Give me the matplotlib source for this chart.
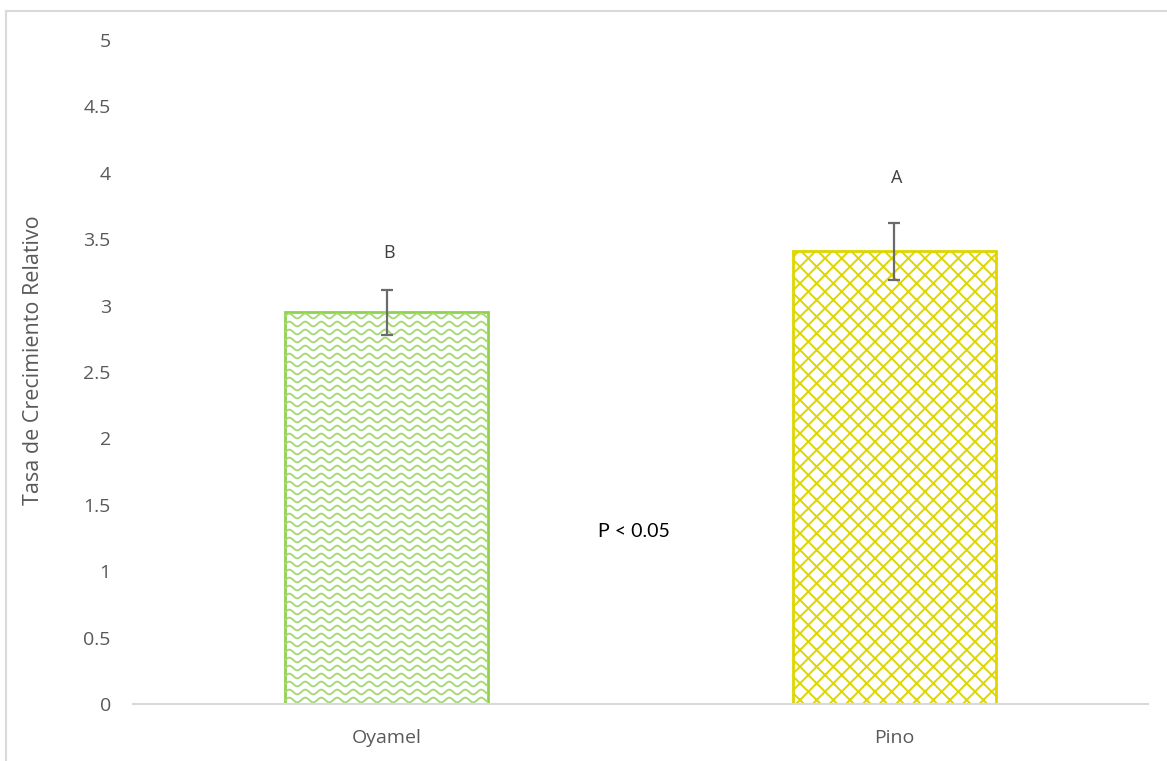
import numpy as np
import matplotlib.pyplot as plt
from matplotlib.lines import Line2D

especies = ['Oyamel', 'Pino']
tasa = [2.95, 3.41]
error = [0.17, 0.215]
letras = ['B', 'A']
colores = ['#92D050', '#DDD600']

plt.rcParams['font.family'] = ['Open Sans', 'DejaVu Sans']
plt.rcParams['hatch.linewidth'] = 1.4
gris = '#595959'

fig = plt.figure(figsize=(11.67, 7.61), dpi=100)
ax = fig.add_axes([133 / 1167, 57 / 761, 1015 / 1167, 664 / 761])
x = np.arange(len(especies))
ax.set_xlim(-0.5, 1.5)
ax.set_ylim(0, 5)

bars = ax.bar(x, tasa, width=0.4, facecolor='white', edgecolor=colores,
              linewidth=2, zorder=2)
# pino: rejilla de rombos
bars[1].set_hatch('xx')

# oyamel: relleno ondulado, trazado en pixeles y recortado a la barra
b = bars[0]
inv = ax.transData.inverted()
x0, y0 = ax.transData.transform((b.get_x(), 0))
x1, y1 = ax.transData.transform((b.get_x() + b.get_width(), b.get_height()))
px = np.arange(x0 - 2, x1 + 2, 0.5)
for yy in np.arange(y0 + 4, y1 + 4, 8):
    py = yy + 2.4 * np.sin(2 * np.pi * (px - x0) / 16)
    pts = inv.transform(np.column_stack([px, py]))
    ln, = ax.plot(pts[:, 0], pts[:, 1], color='#A6D978', lw=1.4, zorder=2.5)
    ln.set_clip_path(b)

ax.errorbar(x, tasa, yerr=error, fmt='none', ecolor='#6B6B6B',
            elinewidth=1.6, capsize=4.5, capthick=1.6, zorder=3)

# letras de significancia
letra_off = [37, 45]
for i, letra in enumerate(letras):
    ax.annotate(letra, (x[i], tasa[i] + error[i]), xytext=(2, letra_off[i] * 0.72),
                textcoords='offset points', ha='center', va='center',
                fontsize=13, color='#404040')

ax.text(0.487, 1.30, 'P < 0.05', ha='center', va='center', fontsize=14,
        color='black', family=['Lato', 'DejaVu Sans'])

ax.set_xticks(x)
ax.set_xticklabels(especies)
ax.set_yticks(np.arange(0, 5.01, 0.5))
ax.set_yticklabels([f'{v:g}' for v in np.arange(0, 5.01, 0.5)])
ax.tick_params(axis='both', length=0, labelcolor=gris, labelsize=14)
ax.tick_params(axis='x', pad=18)
ax.tick_params(axis='y', pad=16)

for s in ['top', 'right', 'left']:
    ax.spines[s].set_visible(False)
ax.spines['bottom'].set_color('#D9D9D9')
ax.spines['bottom'].set_linewidth(1.5)

ax.set_ylabel('Tasa de Crecimiento Relativo', fontsize=15.5, color=gris)
ax.yaxis.set_label_coords(-0.088, 0.518)

# marco del area del grafico
fig.add_artist(Line2D([6 / 1167, 6 / 1167], [0, 1 - 10.5 / 761],
                      transform=fig.transFigure, color='#D9D9D9', lw=1.5))
fig.add_artist(Line2D([6 / 1167, 1], [1 - 10.5 / 761, 1 - 10.5 / 761],
                      transform=fig.transFigure, color='#D9D9D9', lw=1.5))

fig.savefig('out.png', dpi=100)
